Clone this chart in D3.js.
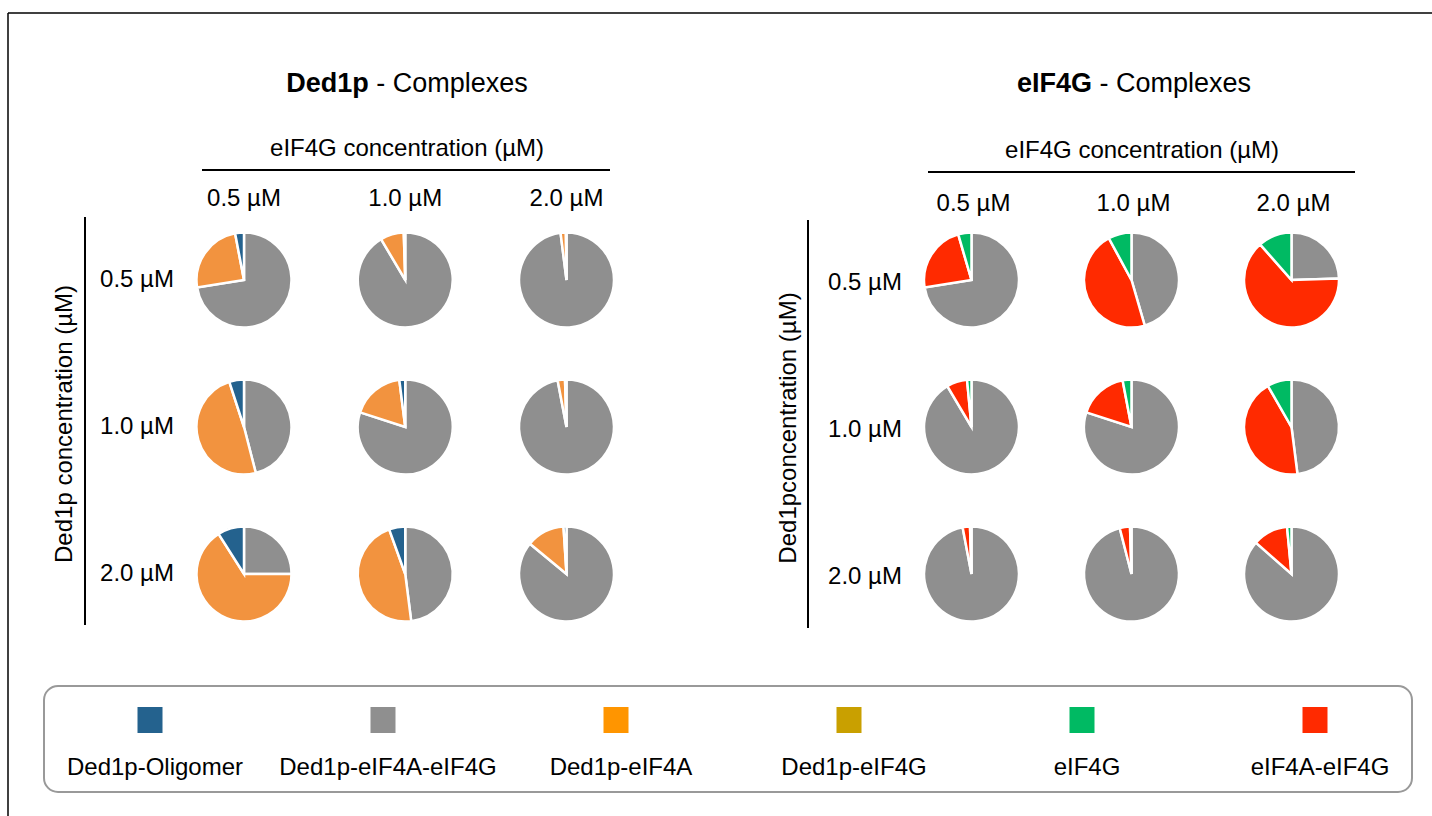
<!DOCTYPE html>
<html>
<head>
<meta charset="utf-8">
<script src="https://cdn.jsdelivr.net/npm/d3@7/dist/d3.min.js"></script>
<style>
  html, body { margin: 0; padding: 0; background: #fff; }
  svg { display: block; font-family: "Liberation Sans", Arial, sans-serif; }
</style>
</head>
<body>
<svg id="chart" width="1432" height="816"></svg>
<script>
// ---------- DATA ----------
const categories = ["Ded1p-Oligomer", "Ded1p-eIF4A-eIF4G", "Ded1p-eIF4A", "Ded1p-eIF4G", "eIF4G", "eIF4A-eIF4G"];
const legendColors = ["#24628e", "#8f8f8f", "#ff9500", "#c9a000", "#00ba63", "#ff2a00"];
const concLabels = ["0.5 µM", "1.0 µM", "2.0 µM"];

// Left panel (Ded1p complexes): rows = Ded1p conc, cols = eIF4G conc (percent)
const ded1pGray   = [[72.5, 91.5, 98.0], [46.0, 80.0, 97.0], [25.0, 48.0, 86.0]];
const ded1pOrange = [[24.5,  8.0,  1.8], [49.0, 18.0,  2.5], [66.0, 46.5, 13.0]];
const ded1pBlue   = [[ 3.0,  0.5,  0.2], [ 5.0,  2.0,  0.5], [ 9.0,  5.5,  1.0]];

// Right panel (eIF4G complexes)
const eif4gGray  = [[72.5, 45.5, 24.5], [91.5, 80.0, 48.0], [97.0, 96.0, 86.5]];
const eif4gRed   = [[23.0, 46.6, 64.0], [ 7.0, 17.0, 43.7], [ 2.5,  3.5, 12.0]];
const eif4gGreen = [[ 4.5,  7.9, 11.5], [ 1.5,  3.0,  8.3], [ 0.5,  0.5,  1.5]];

// ---------- DRAW ----------
const svg = d3.select("#chart");
const pieColors = {
  "Ded1p-Oligomer": "#24628e",
  "Ded1p-eIF4A-eIF4G": "#8f8f8f",
  "Ded1p-eIF4A": "#f2933f",
  "eIF4G": "#00ba63",
  "eIF4A-eIF4G": "#ff2a00"
};

// frame (top & left)
svg.append("line").attr("x1", 8).attr("x2", 1432).attr("y1", 13).attr("y2", 13)
  .attr("stroke", "#000").attr("stroke-width", 1.5);
svg.append("line").attr("x1", 8).attr("x2", 8).attr("y1", 13).attr("y2", 816)
  .attr("stroke", "#000").attr("stroke-width", 1.5);

const radius = 47.5;
const arc = d3.arc().innerRadius(0).outerRadius(radius);
const pie = d3.pie().sort(null).value(d => d.v);

function panel(cfg) {
  const g = svg.append("g");
  const x = d3.scalePoint().domain(concLabels).range(cfg.xRange);
  const y = d3.scalePoint().domain(concLabels).range(cfg.yRange);

  // title
  const t = g.append("text").attr("x", cfg.titleX).attr("y", 92)
    .attr("text-anchor", "middle").attr("font-size", 27).attr("fill", "#000");
  t.append("tspan").attr("font-weight", "bold").text(cfg.titleBold);
  t.append("tspan").text(" - Complexes");

  // top axis
  g.append("text").attr("x", cfg.subX).attr("y", cfg.subY)
    .attr("text-anchor", "middle").attr("font-size", 24).text("eIF4G concentration (µM)");
  g.append("line").attr("x1", cfg.hLine[0]).attr("x2", cfg.hLine[1])
    .attr("y1", cfg.hLineY).attr("y2", cfg.hLineY).attr("stroke", "#000").attr("stroke-width", 2);
  g.selectAll(".colLab").data(concLabels).join("text")
    .attr("x", d => x(d) + cfg.colLabDx).attr("y", cfg.colLabY)
    .attr("text-anchor", "middle").attr("font-size", 24).text(d => d);

  // left axis
  g.append("line").attr("x1", cfg.vLineX).attr("x2", cfg.vLineX)
    .attr("y1", cfg.vLine[0]).attr("y2", cfg.vLine[1]).attr("stroke", "#000").attr("stroke-width", 2);
  g.append("text").attr("transform", `translate(${cfg.yLabX},${cfg.yLabY}) rotate(-90)`)
    .attr("text-anchor", "middle").attr("font-size", 24).text(cfg.yLabel);
  g.selectAll(".rowLab").data(concLabels).join("text")
    .attr("x", cfg.rowLabX).attr("y", d => y(d) + cfg.rowLabDy)
    .attr("text-anchor", "middle").attr("font-size", 24).text(d => d);

  // pies
  concLabels.forEach((rowLab, ri) => {
    concLabels.forEach((colLab, ci) => {
      const vals = cfg.series.map(s => ({ k: s.name, v: s.data[ri][ci] }));
      const pg = g.append("g").attr("transform", `translate(${x(colLab)},${y(rowLab)})`);
      pg.selectAll("path").data(pie(vals)).join("path")
        .attr("d", arc)
        .attr("fill", d => pieColors[d.data.k])
        .attr("stroke", "#fff").attr("stroke-width", 2.5).attr("stroke-linejoin", "miter");
    });
  });
}

panel({
  xRange: [244, 566.5], yRange: [280, 574],
  titleX: 407, titleBold: "Ded1p",
  subX: 407, subY: 156, hLine: [202, 610], hLineY: 170,
  colLabDx: 0, colLabY: 206,
  vLineX: 85, vLine: [217, 625],
  yLabX: 72, yLabY: 424, yLabel: "Ded1p concentration (µM)",
  rowLabX: 137, rowLabDy: 7,
  series: [
    { name: "Ded1p-eIF4A-eIF4G", data: ded1pGray },
    { name: "Ded1p-eIF4A", data: ded1pOrange },
    { name: "Ded1p-Oligomer", data: ded1pBlue }
  ]
});

panel({
  xRange: [971.5, 1291.5], yRange: [280, 574],
  titleX: 1134, titleBold: "eIF4G",
  subX: 1142, subY: 158, hLine: [928, 1355], hLineY: 172,
  colLabDx: 2, colLabY: 211,
  vLineX: 808, vLine: [220, 628],
  yLabX: 796, yLabY: 428, yLabel: "Ded1pconcentration (µM)",
  rowLabX: 865, rowLabDy: 10,
  series: [
    { name: "Ded1p-eIF4A-eIF4G", data: eif4gGray },
    { name: "eIF4A-eIF4G", data: eif4gRed },
    { name: "eIF4G", data: eif4gGreen }
  ]
});

// ---------- LEGEND ----------
const lg = svg.append("g");
lg.append("rect").attr("x", 44).attr("y", 686).attr("width", 1368).attr("height", 106)
  .attr("rx", 14).attr("ry", 14).attr("fill", "#fff").attr("stroke", "#999").attr("stroke-width", 2);
const lx = d3.scalePoint().domain(categories).range([150, 1315]);
const items = lg.selectAll(".item").data(categories).join("g")
  .attr("transform", d => `translate(${lx(d)},0)`);
items.append("rect").attr("x", -12.5).attr("y", 707).attr("width", 25).attr("height", 26)
  .attr("fill", (d, i) => legendColors[i]);
items.append("text").attr("x", 5).attr("y", 775).attr("text-anchor", "middle")
  .attr("font-size", 24).text(d => d);
</script>
</body>
</html>
